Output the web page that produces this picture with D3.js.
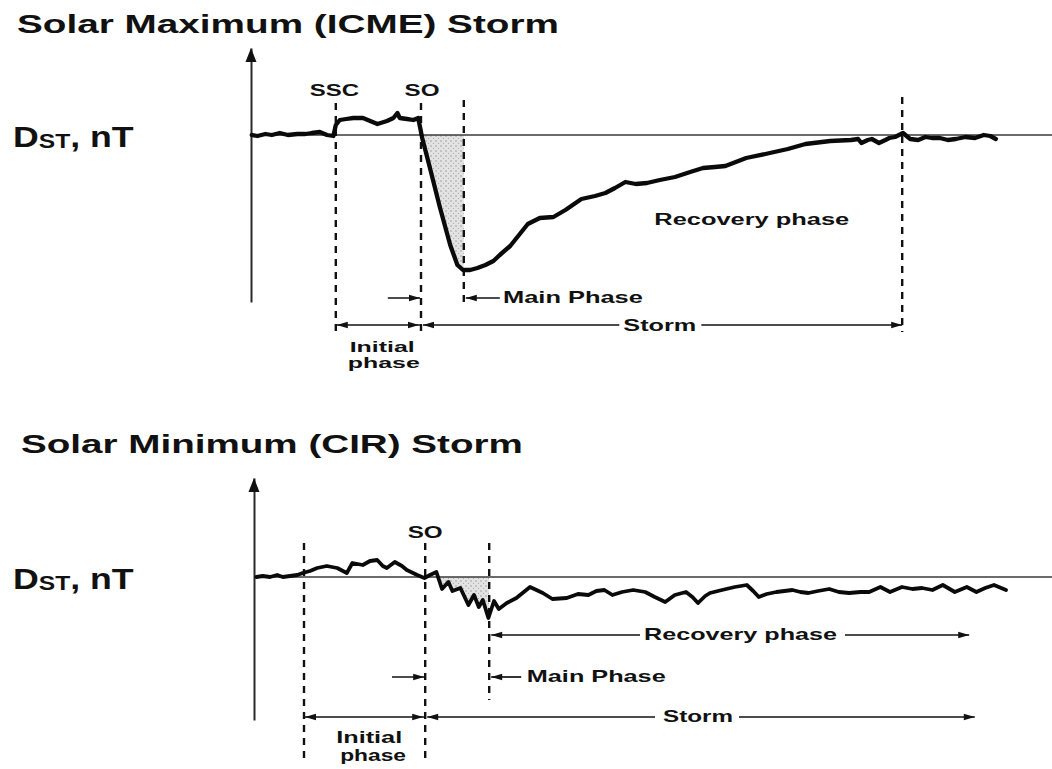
<!DOCTYPE html>
<html><head><meta charset="utf-8">
<script src="https://cdn.jsdelivr.net/npm/d3@7"></script>
<style>
html,body{margin:0;padding:0;background:#fff;}
svg{display:block;}
text{font-family:"Liberation Sans",Arial,Helvetica,sans-serif;font-weight:bold;fill:#111;}
</style></head><body>
<svg id="chart" width="1052" height="769"></svg>
<script>
// ---------------- DATA ----------------
const panelTitles = ["Solar Maximum (ICME) Storm", "Solar Minimum (CIR) Storm"];
const yLabelParts = ["D", "ST", ", nT"];
const phaseLabels = ["Initial", "phase", "Main Phase", "Recovery phase", "Storm"];

// ICME storm (solar maximum): time in hours, Dst in nT
const icmeHours = [0.1,0.8,1.8,2.6,3.6,4.6,5.8,6.8,7.6,8.6,9.5,10.3,10.6,11.1,11.9,12.8,14.0,14.9,15.8,17.0,17.8,18.3,18.6,19.5,20.3,20.9,21.4,22.4,23.6,24.9,25.8,26.5,27.4,28.3,29.3,30.3,31.1,32.4,33.6,34.6,36.1,37.8,39.3,41.3,43.0,44.3,45.5,46.8,48.1,49.5,51.1,53.0,54.9,56.5,58.0,59.3,61.9,64.3,67.1,69.3,72.4,75.0,75.9,76.3,77.1,77.6,78.5,79.3,79.8,80.5,81.5,82.4,83.4,84.3,85.1,86.1,87.1,88.1,89.3,90.5,91.6,92.4,93.1];
const icmeDst = [0,-1,1,0,2,0,1,1,2,3,0,-1,10,15,16,17,17,14,11,14,17,22,17,16,15,17,-3,-34,-72,-110,-130,-135,-135,-133,-130,-126,-120,-111,-99,-89,-83,-82,-75,-64,-61,-58,-53,-47,-49,-48,-45,-42,-37,-33,-32,-31,-23,-19,-14,-9,-6,-5,-4,-8,-5,-4,-8,-5,-3,-2,2,-4,-5,-2,-3,-3,-5,-4,-2,-3,0,-1,-4];
// event times (hours): SSC, SO, end of main phase, end of storm
const icmeMarkers = [10.6, 21.25, 26.6, 81.4];
const icmeMarkerNames = ["SSC", "SO", "", ""];

// CIR storm (solar minimum)
const cirHours = [0.3,1.1,2.0,2.9,3.6,4.5,5.4,6.1,7.0,7.9,9.1,10.4,11.6,12.3,13.6,14.5,15.4,16.1,16.6,17.6,18.5,19.1,20.4,21.3,22.0,22.8,23.5,24.3,24.8,25.8,26.8,27.5,28.1,28.6,29.3,30.0,30.6,31.6,32.8,34.5,36.1,37.3,39.1,40.5,41.8,42.8,43.8,44.8,46.0,47.4,48.9,50.1,51.4,52.6,54.0,54.8,55.5,56.4,57.0,58.5,60.1,61.6,62.4,63.1,64.1,65.3,67.3,68.3,69.3,70.5,71.9,73.1,74.4,75.8,76.9,78.3,79.5,81.0,82.3,83.5,84.8,86.1,87.6,89.1,90.3,91.4,92.5,94.0];
const cirDst = [0,1,0,2,0,1,2,4,6,9,11,9,4,14,12,16,17,11,9,15,11,7,2,-1,2,5,-12,-5,-14,-11,-28,-18,-30,-23,-41,-24,-32,-26,-21,-10,-16,-22,-21,-17,-18,-14,-13,-18,-15,-13,-15,-20,-25,-18,-15,-20,-26,-19,-16,-13,-10,-8,-14,-20,-17,-15,-13,-15,-16,-14,-12,-15,-16,-15,-15,-10,-15,-10,-12,-11,-13,-8,-15,-10,-15,-11,-8,-13];
// event times: start of initial phase, SO, end of main phase, end of storm/recovery arrows
const cirMarkers = [6.25, 21.4, 29.4, 90.1];
const cirMarkerNames = ["", "SO", "", ""];

// ---------------- DRAW ----------------
const W = 1052, H = 769;
const svg = d3.select("#chart");
const INK = "#111";

const defs = svg.append("defs");
const pat = defs.append("pattern").attr("id","stip").attr("patternUnits","userSpaceOnUse")
  .attr("width",5).attr("height",5);
pat.append("rect").attr("width",5).attr("height",5).attr("fill","#e3e3e3");
pat.append("circle").attr("cx",1).attr("cy",1).attr("r",0.7).attr("fill","#8c8c8c");
pat.append("circle").attr("cx",3.5).attr("cy",3.3).attr("r",0.6).attr("fill","#a5a5a5");

// stretched text helper (reference glyphs are horizontally wide)
function label(g, parts, x, y, width, anchor) {
  const t = g.append("text").attr("x",0).attr("y",0);
  parts.forEach(p => t.append("tspan").attr("font-size", p.size).attr("dy", p.dy || 0).text(p.text));
  const bb = t.node().getBBox();
  const sx = width / bb.width;
  const left = anchor === "middle" ? x - width/2 : x;
  t.attr("transform", `translate(${left - bb.x*sx},${y}) scale(${sx},1)`);
  return t;
}
function arrowHead(g, px, py, dir) {
  g.append("path")
    .attr("d", `M${px},${py}L${px - dir*11},${py - 3.2}L${px - dir*11},${py + 3.2}Z`)
    .attr("fill", INK);
}
function hline(g, x1, x2, y) {
  g.append("line").attr("x1",x1).attr("x2",x2).attr("y1",y).attr("y2",y)
    .attr("stroke", INK).attr("stroke-width", 1.7);
}
function interp(hours, dst, t) {
  for (let i = 1; i < hours.length; i++) {
    if (hours[i] >= t) {
      const f = (t - hours[i-1]) / (hours[i] - hours[i-1]);
      return dst[i-1] + f * (dst[i] - dst[i-1]);
    }
  }
  return dst[dst.length-1];
}

function drawPanel(opt) {
  const g = svg.append("g");
  const x = opt.x, y = opt.y;
  // title
  label(g, [{text: opt.title, size: 26}], opt.titleX, opt.titleY, opt.titleW, "start");
  // y label
  label(g, [{text: yLabelParts[0], size: 29}, {text: yLabelParts[1], size: 20, dy: 1}, {text: yLabelParts[2], size: 29, dy: -1}],
        13, opt.dstY, 121, "start");

  // shaded main phase area
  const a = opt.markers[1], b = opt.markers[2];
  const pts = [[a, Math.min(0, interp(opt.hours, opt.dst, a))]];
  opt.hours.forEach((h, i) => { if (h > a && h < b) pts.push([h, Math.min(0, opt.dst[i])]); });
  pts.push([b, Math.min(0, interp(opt.hours, opt.dst, b))]);
  g.append("path").datum(pts)
    .attr("d", d3.area().x(d => x(d[0])).y0(y(0)).y1(d => y(d[1])))
    .attr("fill", "url(#stip)");

  // zero line
  g.append("line").attr("x1", x(0)).attr("x2", W).attr("y1", y(0)).attr("y2", y(0))
    .attr("stroke", "#3a3a3a").attr("stroke-width", 1.6);

  // y axis with arrow
  const ax = g.append("g").attr("transform", `translate(${x(0)},0)`)
    .call(d3.axisLeft(y).tickValues([]).tickSizeOuter(0));
  ax.select(".domain").attr("stroke", "#2a2a2a").attr("stroke-width", 2);
  const top = y.range()[1];
  g.append("path").attr("d", `M${x(0)},${top}L${x(0)-5.5},${top+14}L${x(0)+5.5},${top+14}Z`).attr("fill", INK);

  // dashed event lines
  opt.dashes.forEach(d => {
    g.append("line").attr("x1", x(d[0])).attr("x2", x(d[0])).attr("y1", y(d[1])).attr("y2", y(d[2]))
      .attr("stroke", INK).attr("stroke-width", 2.4).attr("stroke-dasharray", "7,6");
  });

  // curve
  g.append("path").datum(opt.hours.map((h, i) => [h, opt.dst[i]]))
    .attr("d", d3.line().x(d => x(d[0])).y(d => y(d[1])))
    .attr("fill", "none").attr("stroke", "#0a0a0a").attr("stroke-width", opt.lw)
    .attr("stroke-linejoin", "round").attr("stroke-linecap", "round");

  // marker names
  opt.markerNames.forEach((n, i) => {
    if (n) label(g, [{text: n, size: 16}], x(opt.markers[i]) + opt.nameDx[i], y(39), n.length === 3 ? 50 : 35, "middle");
  });
  return g;
}

// ---------- top panel ----------
const xTop = d3.scaleLinear().domain([0, 100.125]).range([251, 1052]);
const yTop = d3.scaleLinear().domain([-167, 87]).range([302, 48]);
const gTop = drawPanel({
  x: xTop, y: yTop, title: panelTitles[0], titleX: 17, titleY: 33, titleW: 542, dstY: 147,
  hours: icmeHours, dst: icmeDst, markers: icmeMarkers, markerNames: icmeMarkerNames, nameDx: [-1, 1, 0, 0], lw: 4.3,
  dashes: [[icmeMarkers[0], 32, -198], [icmeMarkers[1], 32, -198], [icmeMarkers[2], 35, -167], [icmeMarkers[3], 38, -197]]
});
(function(){
  const g = gTop, x = xTop, y = yTop, m = icmeMarkers;
  label(g, [{text: phaseLabels[3], size: 17}], x(62.6), y(-90), 195, "middle");
  // row A: initial-phase end arrow and main phase arrow
  const ra = y(-163);
  hline(g, x(17.1), x(m[1]) - 1, ra); arrowHead(g, x(m[1]) - 1, ra, 1);
  hline(g, x(m[2]) + 2, x(31.1), ra); arrowHead(g, x(m[2]) + 2, ra, -1);
  label(g, [{text: phaseLabels[2], size: 17}], x(31.5), y(-168), 140, "start");
  // row B: initial phase & storm
  const rb = y(-190);
  hline(g, x(m[0]) + 1, x(m[1]) - 1, rb); arrowHead(g, x(m[0]) + 1, rb, -1); arrowHead(g, x(m[1]) - 2, rb, 1);
  const sc = x(51.1), sw = 73;
  hline(g, x(m[1]) + 2, sc - sw/2 - 4, rb); arrowHead(g, x(m[1]) + 2, rb, -1);
  hline(g, sc + sw/2 + 5, x(m[3]), rb); arrowHead(g, x(m[3]), rb, 1);
  label(g, [{text: phaseLabels[4], size: 17}], sc, y(-196), sw, "middle");
  label(g, [{text: phaseLabels[0], size: 15}], x(16.4), y(-217), 65, "middle");
  label(g, [{text: phaseLabels[1], size: 15}], x(16.6), y(-233), 72, "middle");
})();

// ---------- bottom panel ----------
const xBot = d3.scaleLinear().domain([0, 99.75]).range([254, 1052]);
const yBot = d3.scaleLinear().domain([-143, 99]).range([720, 478]);
const gBot = drawPanel({
  x: xBot, y: yBot, title: panelTitles[1], titleX: 21, titleY: 453, titleW: 502, dstY: 589,
  hours: cirHours, dst: cirDst, markers: cirMarkers, markerNames: cirMarkerNames, nameDx: [0, 0, 0, 0], lw: 3.8,
  dashes: [[cirMarkers[0], 34, -183], [cirMarkers[1], 34, -185], [cirMarkers[2], 34, -123]]
});
(function(){
  const g = gBot, x = xBot, y = yBot, m = cirMarkers;
  // recovery row
  const rr = y(-58);
  const rl = x(48.75), rw = 193;
  hline(g, x(m[2]) + 2, rl - 4, rr); arrowHead(g, x(m[2]) + 2, rr, -1);
  hline(g, rl + rw + 8, x(89.4), rr); arrowHead(g, x(89.4), rr, 1);
  label(g, [{text: phaseLabels[3], size: 17}], rl, y(-63), rw, "start");
  // main row
  const ra = y(-100);
  hline(g, x(17.25), x(m[1]) - 1, ra); arrowHead(g, x(m[1]) - 1, ra, 1);
  hline(g, x(m[2]) + 2, x(33.4), ra); arrowHead(g, x(m[2]) + 2, ra, -1);
  label(g, [{text: phaseLabels[2], size: 17}], x(34.1), y(-105), 139, "start");
  // storm row
  const rb = y(-140);
  hline(g, x(m[0]) + 1, x(m[1]) - 1, rb); arrowHead(g, x(m[0]) + 1, rb, -1); arrowHead(g, x(m[1]) - 2, rb, 1);
  const sc = x(55.5), sw = 70;
  hline(g, x(m[1]) + 2, sc - sw/2 - 8, rb); arrowHead(g, x(m[1]) + 2, rb, -1);
  hline(g, sc + sw/2 + 6, x(m[3]), rb); arrowHead(g, x(m[3]), rb, 1);
  label(g, [{text: phaseLabels[4], size: 17}], sc, y(-145), sw, "middle");
  label(g, [{text: phaseLabels[0], size: 16}], x(14.4), y(-166), 66, "middle");
  label(g, [{text: phaseLabels[1], size: 16}], x(14.9), y(-184), 66, "middle");
})();
</script>
</body></html>
